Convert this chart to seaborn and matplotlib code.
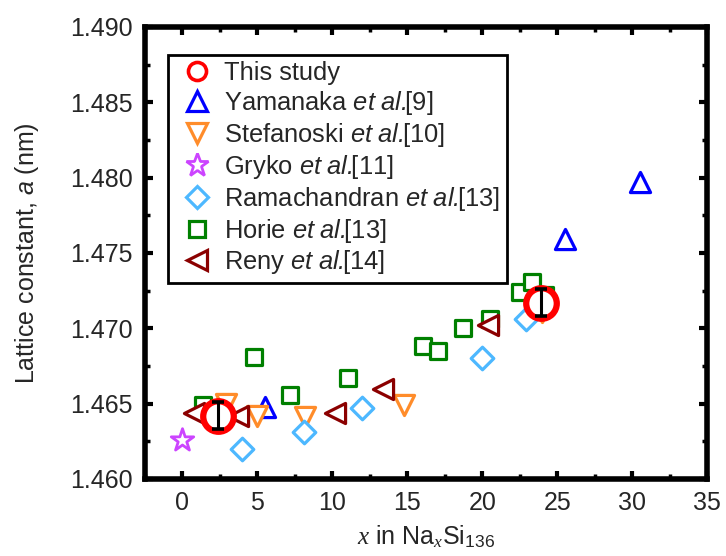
import matplotlib
matplotlib.use("Agg")
import matplotlib.pyplot as plt
import seaborn as sns
import pandas as pd
from matplotlib.lines import Line2D
from matplotlib.ticker import MultipleLocator

# ---------------- data ----------------
this_x = [2.4, 23.9]
this_y = [1.4642, 1.4717]
this_err = [0.0009, 0.0009]

yam_x = [5.5, 25.5, 30.5]
yam_y = [1.4648, 1.4759, 1.4797]

ste_x = [2.9, 5.0, 8.2, 14.8, 24.0]
ste_y = [1.4650, 1.4642, 1.4641, 1.4649, 1.4711]

gry_x = [0.0]
gry_y = [1.4626]

ram_x = [4.0, 8.1, 12.0, 20.0, 22.9]
ram_y = [1.4620, 1.4631, 1.4647, 1.4680, 1.4706]

hor_x = [1.4, 4.8, 7.2, 11.05, 16.05, 17.05, 18.75, 20.5, 22.5, 23.35, 24.2]
hor_y = [1.4649, 1.4681, 1.4656, 1.4667, 1.4688, 1.4685, 1.4700, 1.4706, 1.4724, 1.4731, 1.4722]

ren_x = [0.8, 3.7, 10.2, 13.4, 20.4]
ren_y = [1.4644, 1.4642, 1.4644, 1.4660, 1.4702]

labels = ["This study",
          r"Yamanaka $\mathsf{et\ al.}\!\!$[9]",
          r"Stefanoski $\mathsf{et\ al.}\!\!$[10]",
          r"Gryko $\mathsf{et\ al.}\!\!$[11]",
          r"Ramachandran $\mathsf{et\ al.}\!\!$[13]",
          r"Horie $\mathsf{et\ al.}\!\!$[13]",
          r"Reny $\mathsf{et\ al.}\!\!$[14]"]

xticks = [0, 5, 10, 15, 20, 25, 30, 35]
yticks = [1.460, 1.465, 1.470, 1.475, 1.480, 1.485, 1.490]

# ---------------- style ----------------
sns.set_style("ticks")
plt.rcParams["font.family"] = ["Liberation Sans", "DejaVu Sans"]
plt.rcParams["mathtext.fontset"] = "custom"
plt.rcParams["mathtext.rm"] = "Liberation Sans"
plt.rcParams["mathtext.it"] = "Liberation Serif:italic"
plt.rcParams["mathtext.sf"] = "Liberation Sans:italic"

FS = 18
fig = plt.figure(figsize=(7.26, 5.56), dpi=100)
ax = fig.add_axes([145 / 726, 1 - 479 / 556, (707 - 145) / 726, (479 - 27) / 556])

series = [
    (yam_x, yam_y, "^", 14.5, "#0000FF", 2.3),
    (ste_x, ste_y, "v", 14.5, "#FF8C2A", 2.3),
    (gry_x, gry_y, "*", 17, "#CC44FF", 2.0),
    (ram_x, ram_y, "D", 11.5, "#4DB8FF", 2.3),
    (hor_x, hor_y, "s", 11, "#008000", 2.3),
    (ren_x, ren_y, "<", 14.5, "#8B0000", 2.3),
]
for xs, ys, mk, ms, col, lw in series:
    df = pd.DataFrame({"x": xs, "y": ys})
    sns.scatterplot(data=df, x="x", y="y", marker=mk, s=ms ** 2, color="white",
                    edgecolor=col, linewidth=lw, ax=ax, zorder=3, legend=False)

df_this = pd.DataFrame({"x": this_x, "y": this_y})
sns.scatterplot(data=df_this, x="x", y="y", marker="o", s=22 ** 2, color="white",
                edgecolor="#FF0000", linewidth=4.5, ax=ax, zorder=4, legend=False)
ax.errorbar(this_x, this_y, yerr=this_err, fmt="none", ecolor="black",
            elinewidth=2.2, capsize=4.5, capthick=2.6, zorder=5)

# ---------------- axes ----------------
ax.set_xlim(-2.5, 35)
ax.set_ylim(1.460, 1.490)
ax.set_xticks(xticks)
ax.set_yticks(yticks)
ax.set_yticklabels([f"{v:.3f}" for v in yticks])
ax.xaxis.set_minor_locator(MultipleLocator(2.5))
ax.yaxis.set_minor_locator(MultipleLocator(0.0025))
ax.tick_params(which="both", direction="in", top=True, right=True, labelsize=FS, color="black")
ax.tick_params(which="major", length=6, width=3, pad=9)
ax.tick_params(which="minor", length=3.5, width=2.5)
for sp in ax.spines.values():
    sp.set_linewidth(4)
    sp.set_color("black")

ax.set_xlabel(r"$x$ in Na$_x$Si$_{136}$", fontsize=FS)
ax.set_ylabel(r"Lattice constant, $\mathsf{a}$ (nm)", fontsize=FS)
ax.yaxis.set_label_coords(-0.185, 0.5)
ax.xaxis.labelpad = 6

# ---------------- legend ----------------
handles = [Line2D([], [], linestyle="none", marker="o", markersize=13, markerfacecolor="white",
                  markeredgecolor="#FF0000", markeredgewidth=2.6)]
for xs, ys, mk, ms, col, lw in series:
    handles.append(Line2D([], [], linestyle="none", marker=mk, markersize=ms,
                          markerfacecolor="white", markeredgecolor=col, markeredgewidth=lw))
leg = ax.legend(handles, labels, loc="upper left", bbox_to_anchor=(0.041, 0.938),
                borderaxespad=0, fontsize=18.4, frameon=True, fancybox=False,
                borderpad=0.25, handlelength=1.8, handletextpad=0.15, labelspacing=0.15,
                numpoints=1)
leg.get_frame().set_edgecolor("black")
leg.get_frame().set_linewidth(2)
leg.get_frame().set_alpha(1)

fig.savefig("out.png", dpi=100)
